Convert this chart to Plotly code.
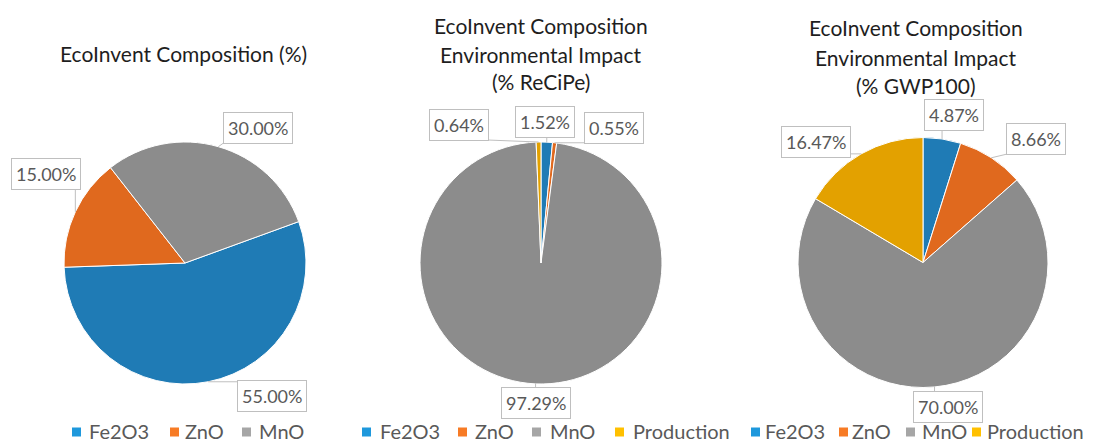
import math
import plotly.graph_objects as go

# window size and the default 8px page margin of the html body
WIN_W, WIN_H = 1099, 444
BODY = 8
W, H = WIN_W - BODY, WIN_H - BODY

# ---------------- data ----------------
labels_1 = ["Fe2O3", "ZnO", "MnO"]
values_1 = [55.00, 15.00, 30.00]

labels_2 = ["Fe2O3", "ZnO", "MnO", "Production"]
values_2 = [1.52, 0.55, 97.29, 0.64]

labels_3 = ["Fe2O3", "ZnO", "MnO", "Production"]
values_3 = [4.87, 8.66, 70.00, 16.47]

title_1 = ["EcoInvent Composition (%)"]
title_2 = ["EcoInvent Composition", "Environmental Impact", "(% ReCiPe)"]
title_3 = ["EcoInvent Composition", "Environmental Impact", "(% GWP100)"]

# ---------------- style ----------------
colors = {"Fe2O3": "#1F7BB5", "ZnO": "#E0691E", "MnO": "#8C8C8C", "Production": "#E3A100"}
legend_colors = {"Fe2O3": "#1E98DC", "ZnO": "#F77B25", "MnO": "#A6A6A6", "Production": "#FFC000"}
FONT = "Lato"
TXT = "#595959"

# pie geometry in window pixels: center x, center y, radius, rotation; label box centres; legend layout
pies = [
    dict(labels=labels_1, values=values_1, cx=185, cy=263, r=121, rot=70,
         title=title_1, tx=183, ty=[53],
         lab=[(272, 396), (46, 174), (258, 128)],
         leg_text_x=[88, 184, 258], leg_mark_x=[72, 170, 242]),
    dict(labels=labels_2, values=values_2, cx=541, cy=263, r=121, rot=0,
         title=title_2, tx=541, ty=[26, 54, 82],
         lab=[(545, 122), (614, 128), (536, 403), (459, 125)],
         leg_text_x=[379, 474, 549, 632], leg_mark_x=[362, 458, 532, 615]),
    dict(labels=labels_3, values=values_3, cx=923, cy=262.5, r=125, rot=0,
         title=title_3, tx=916, ty=[28, 57, 85],
         lab=[(954, 115), (1036, 139), (948, 407), (816, 142)],
         leg_text_x=[764, 851, 921, 986], leg_mark_x=[751, 839, 906, 972]),
]
LEG_BOTTOM = 444   # legend text sits on the bottom edge
LEG_MARK_Y = 432   # centre of legend squares
MARK = 9


def px(x):
    return (x - BODY) / W


def py(y):
    return 1 - (y - BODY) / H


fig = go.Figure()
annotations = []
shapes = []

for p in pies:
    cx, cy, r = p["cx"], p["cy"], p["r"]
    fig.add_trace(go.Pie(
        labels=p["labels"], values=p["values"], sort=False, direction="clockwise",
        rotation=p["rot"], textinfo="none", hoverinfo="label+percent",
        marker=dict(colors=[colors[l] for l in p["labels"]], line=dict(color="white", width=1)),
        domain=dict(x=[px(cx - r), px(cx + r)], y=[py(cy + r), py(cy - r)]),
        showlegend=False,
    ))
    # titles
    for line, ty in zip(p["title"], p["ty"]):
        annotations.append(dict(
            x=px(p["tx"]), y=py(ty), xref="paper", yref="paper", text=line,
            showarrow=False, xanchor="center", yanchor="middle",
            font=dict(family=FONT, size=21, color="#1E1E1E")))
    # data labels with leader lines
    total = sum(p["values"])
    cum = 0.0
    for v, (lx, ly) in zip(p["values"], p["lab"]):
        mid = p["rot"] + 360.0 * (cum + v / 2) / total
        cum += v
        a = math.radians(mid)
        ex = cx + r * math.sin(a)
        ey = cy - r * math.cos(a)
        text = f"{v / total * 100:.2f}%"
        bw = 11.5 * len(text) / 2
        bh = 15
        qx = min(max(ex, lx - bw), lx + bw)
        qy = min(max(ey, ly - bh), ly + bh)
        shapes.append(dict(type="line", xref="paper", yref="paper",
                           x0=px(ex), y0=py(ey), x1=px(qx), y1=py(qy),
                           line=dict(color="#BFBFBF", width=1)))
        annotations.append(dict(
            x=px(lx), y=py(ly), xref="paper", yref="paper", text=text,
            showarrow=False, xanchor="center", yanchor="middle",
            bgcolor="white", bordercolor="#BFBFBF", borderwidth=1, borderpad=4,
            font=dict(family=FONT, size=18, color=TXT)))
    # legend entries (one legend per pie)
    for lbl, tx, mx in zip(p["labels"], p["leg_text_x"], p["leg_mark_x"]):
        shapes.append(dict(type="rect", xref="paper", yref="paper",
                           x0=px(mx), x1=px(mx + MARK),
                           y0=py(LEG_MARK_Y + MARK / 2), y1=py(LEG_MARK_Y - MARK / 2),
                           fillcolor=legend_colors[lbl], line=dict(width=0)))
        annotations.append(dict(
            x=px(tx), y=py(LEG_BOTTOM), xref="paper", yref="paper", text=lbl,
            showarrow=False, xanchor="left", yanchor="bottom", borderpad=0,
            font=dict(family=FONT, size=20, color=TXT)))

fig.update_layout(
    width=W, height=H, margin=dict(l=0, r=0, t=0, b=0),
    paper_bgcolor="white", plot_bgcolor="white",
    annotations=annotations, shapes=shapes,
    showlegend=False,
)

fig.write_html("out.html")
